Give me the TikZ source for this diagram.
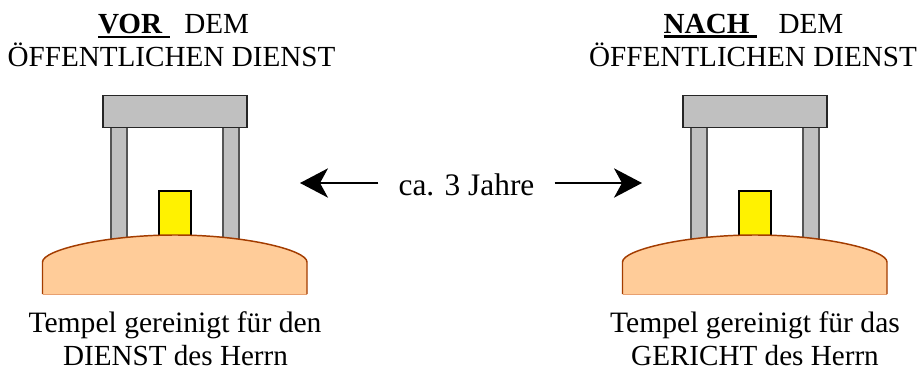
\documentclass[tikz,border=0pt]{standalone}
\usepackage{fontspec}
\setmainfont{Liberation Serif}
\usetikzlibrary{arrows.meta}
\definecolor{grayfill}{HTML}{C0C0C0}
\definecolor{moundfill}{HTML}{FFCC99}
\definecolor{moundline}{HTML}{A33C00}
\definecolor{moundbase}{HTML}{E8A070}
\definecolor{pillarline}{HTML}{555555}
\tikzset{
  lintel/.style={draw=black!85,fill=grayfill,line width=1.1pt},
  pillar/.style={draw=pillarline,fill=grayfill,line width=1.1pt},
  altar/.style={draw=black,fill=yellow,line width=1.1pt},
  moundbody/.style={fill=moundfill},
  moundedge/.style={draw=moundline,line width=1.1pt},
  caption/.style={font=\fontsize{21.85}{24}\selectfont,anchor=base,inner sep=0pt},
  widecaption/.style={font=\fontsize{22.2}{24}\selectfont,anchor=base,inner sep=0pt},
  timecaption/.style={font=\fontsize{23.5}{24}\selectfont,anchor=base,inner ysep=0pt,inner xsep=15pt},
  timearrow/.style={line width=1.1pt,-{Stealth[length=21pt,width=22pt,inset=6pt]}},
}
\newcommand{\thickul}[1]{\leavevmode\vtop{\hbox{#1}\kern1.6pt\hrule height 2.1pt}}
\newcommand{\temple}[1]{%
  \begin{scope}[xshift=#1*0.75pt]
    \draw[pillar] (111,127) rectangle (127,240);
    \draw[pillar] (223,127) rectangle (239,240);
    \draw[altar] (159,191) rectangle (191,237);
    \draw[lintel] (103,95.5) rectangle (247,127.5);
    \fill[moundbody] (42.5,294) -- (42.5,262) .. controls (42.5,250) and (105,235) .. (175,235) .. controls (245,235) and (307,250) .. (307,262) -- (307,294) -- cycle;
    \draw[moundbase,line width=0.6pt] (42.5,294) -- (307,294);
    \draw[moundedge] (42.5,294) -- (42.5,262) .. controls (42.5,250) and (105,235) .. (175,235) .. controls (245,235) and (307,250) .. (307,262) -- (307,294);
  \end{scope}}
\begin{document}
\begin{tikzpicture}[x=0.75pt,y=-0.75pt]
\useasboundingbox (0,0) rectangle (920,372);
\temple{0}
\temple{580}
\node[caption] (vor) at (173.5,33) {\thickul{\textbf{VOR\ }}\ \ DEM};
\node[caption] (voroef) at (171.5,66) {ÖFFENTLICHEN DIENST};
\node[caption] (nach) at (753.5,33) {\thickul{\textbf{NACH\ }}\ \ \ DEM};
\node[caption] (nachoef) at (753,66) {ÖFFENTLICHEN DIENST};
\node[widecaption] (tl1) at (175,332) {Tempel gereinigt für den};
\node[caption] (tl2) at (175.5,365.5) {DIENST des Herrn};
\node[widecaption] (tr1) at (755,332) {Tempel gereinigt für das};
\node[caption] (tr2) at (755,365.5) {GERICHT des Herrn};
\node[timecaption] (zeit) at (466.5,195) {ca. 3 Jahre};
\coordinate (tipL) at (300,183);
\coordinate (tipR) at (642,183);
\draw[timearrow] (zeit.west |- tipL) -- (tipL);
\draw[timearrow] (zeit.east |- tipR) -- (tipR);
\end{tikzpicture}
\end{document}
